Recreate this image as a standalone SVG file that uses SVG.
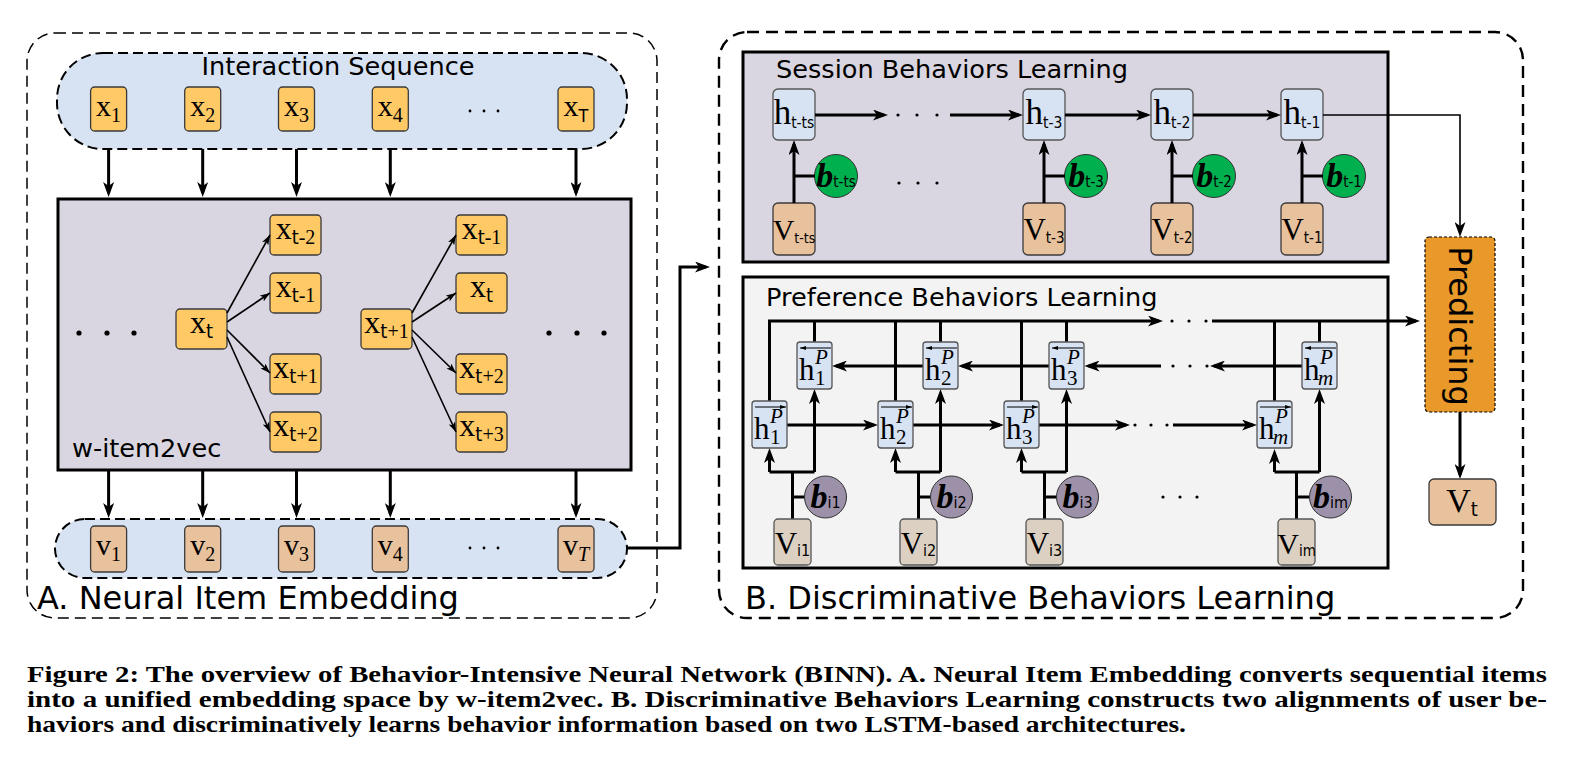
<svg xmlns="http://www.w3.org/2000/svg" width="1585" height="762" viewBox="0 0 1585 762">
<style>
.dA{fill:none;stroke:#000;stroke-width:1.5;stroke-dasharray:11 6}
.dB{fill:none;stroke:#000;stroke-width:2.4;stroke-dasharray:12 7}
.pill{fill:#d7e2f2;stroke:#000;stroke-width:2;stroke-dasharray:10 5}
.panel{fill:#d9d6e1;stroke:#000;stroke-width:3}
.pref{fill:#f3f3f3;stroke:#000;stroke-width:3}
.xb{fill:#ffc966;stroke:#3a3a3a;stroke-width:1.3}
.vb{fill:#e8c19d;stroke:#3a3a3a;stroke-width:1.3}
.hb{fill:#d7e2f2;stroke:#555;stroke-width:1.3}
.vi{fill:#dcd0c2;stroke:#555;stroke-width:1.3}
.bg{fill:#00b04f;stroke:#333;stroke-width:1}
.bp{fill:#9c91a9;stroke:#333;stroke-width:1}
.tk{fill:none;stroke:#000;stroke-width:3}
.tn{fill:none;stroke:#000;stroke-width:1.6}
.th{fill:none;stroke:#000;stroke-width:1}
.lab{font-family:"DejaVu Sans",sans-serif;font-size:25.6px;fill:#000}
.big{font-family:"DejaVu Sans",sans-serif;font-size:32px;fill:#000}
.m{font-family:"Liberation Serif",serif;fill:#000}
.s{font-family:"DejaVu Sans Condensed","DejaVu Sans",sans-serif}
.bi{font-family:"Liberation Serif",serif;font-weight:bold;font-style:italic;fill:#000}
.it{font-family:"Liberation Serif",serif;font-style:italic}
.cap{font-family:"Liberation Serif",serif;font-weight:bold;font-size:24px;fill:#000}
.dot{fill:#000}
</style>
<defs>
<marker id="ak" viewBox="0 0 15 11" refX="11" refY="5.5" markerWidth="15" markerHeight="11" markerUnits="userSpaceOnUse" orient="auto"><path d="M0,0 L15,5.5 L0,11 L4,5.5 z" fill="#000"/></marker>
<marker id="as" viewBox="0 0 10 7" refX="10" refY="3.5" markerWidth="10" markerHeight="7" markerUnits="userSpaceOnUse" orient="auto"><path d="M0,0 L10,3.5 L0,7 L2.5,3.5 z" fill="#000"/></marker>
<marker id="ot" viewBox="0 0 6 4" refX="6" refY="2" markerWidth="6" markerHeight="4" markerUnits="userSpaceOnUse" orient="auto"><path d="M0,0 L6,2 L0,4 z" fill="#000"/></marker>
</defs>

<!-- Panel A -->
<g id="panelA">
<rect class="dA" x="27" y="33" width="630" height="585" rx="28"/>
<text class="big" x="37" y="609" font-size="33">A. Neural Item Embedding</text>
</g>
<g id="interaction-sequence">
<rect class="pill" x="57" y="53" width="570" height="96" rx="46"/>
<text class="lab" x="338" y="75" text-anchor="middle">Interaction Sequence</text>
<circle class="dot" cx="470" cy="111" r="1.4"/><circle class="dot" cx="484" cy="111" r="1.4"/><circle class="dot" cx="498" cy="111" r="1.4"/>
</g>
<g id="x1"><rect class="xb" x="90.6" y="87" width="36" height="44" rx="4"/><text class="m" x="108.6" y="116" text-anchor="middle" font-size="30">x<tspan font-size="20" dy="6">1</tspan></text></g>
<g id="x2"><rect class="xb" x="184.7" y="87" width="36" height="44" rx="4"/><text class="m" x="202.7" y="116" text-anchor="middle" font-size="30">x<tspan font-size="20" dy="6">2</tspan></text></g>
<g id="x3"><rect class="xb" x="278.5" y="87" width="36" height="44" rx="4"/><text class="m" x="296.5" y="116" text-anchor="middle" font-size="30">x<tspan font-size="20" dy="6">3</tspan></text></g>
<g id="x4"><rect class="xb" x="372.3" y="87" width="36" height="44" rx="4"/><text class="m" x="390.3" y="116" text-anchor="middle" font-size="30">x<tspan font-size="20" dy="6">4</tspan></text></g>
<g id="xT"><rect class="xb" x="558" y="87" width="36" height="44" rx="4"/><text class="m" x="576" y="116" text-anchor="middle" font-size="30">x<tspan class="s" font-size="18" dy="6">T</tspan></text></g>

<g id="w-item2vec">
<rect class="panel" x="58" y="199" width="573" height="271"/>
<text class="lab" x="72" y="457">w-item2vec</text>
<circle class="dot" cx="79" cy="333" r="2.6"/><circle class="dot" cx="107" cy="333" r="2.6"/><circle class="dot" cx="134" cy="333" r="2.6"/>
<circle class="dot" cx="549" cy="333" r="2.6"/><circle class="dot" cx="577" cy="333" r="2.6"/><circle class="dot" cx="604" cy="333" r="2.6"/>
</g>
<g id="xt"><rect class="xb" x="176" y="309" width="51" height="40" rx="4"/><text class="m" x="201.5" y="333" text-anchor="middle" font-size="32">x<tspan class="s" font-size="20" dy="5">t</tspan></text></g>
<g id="xt1"><rect class="xb" x="361" y="309" width="51" height="40" rx="4"/><text class="m" x="386.5" y="333" text-anchor="middle" font-size="32">x<tspan class="s" font-size="20" dy="5">t</tspan><tspan font-size="20">+1</tspan></text></g>
<g id="a-xtm2"><rect class="xb" x="270" y="215" width="51" height="40" rx="4"/><text class="m" x="295.5" y="239" text-anchor="middle" font-size="32">x<tspan class="s" font-size="20" dy="5">t</tspan><tspan font-size="20">-2</tspan></text></g>
<g id="a-xtm1"><rect class="xb" x="270" y="273" width="51" height="40" rx="4"/><text class="m" x="295.5" y="297" text-anchor="middle" font-size="32">x<tspan class="s" font-size="20" dy="5">t</tspan><tspan font-size="20">-1</tspan></text></g>
<g id="a-xtp1"><rect class="xb" x="270" y="354" width="51" height="40" rx="4"/><text class="m" x="295.5" y="378" text-anchor="middle" font-size="32">x<tspan class="s" font-size="20" dy="5">t</tspan><tspan font-size="20">+1</tspan></text></g>
<g id="a-xtp2"><rect class="xb" x="270" y="412" width="51" height="40" rx="4"/><text class="m" x="295.5" y="436" text-anchor="middle" font-size="32">x<tspan class="s" font-size="20" dy="5">t</tspan><tspan font-size="20">+2</tspan></text></g>
<g id="b-xtm1"><rect class="xb" x="456" y="215" width="51" height="40" rx="4"/><text class="m" x="481.5" y="239" text-anchor="middle" font-size="32">x<tspan class="s" font-size="20" dy="5">t</tspan><tspan font-size="20">-1</tspan></text></g>
<g id="b-xt"><rect class="xb" x="456" y="273" width="51" height="40" rx="4"/><text class="m" x="481.5" y="297" text-anchor="middle" font-size="32">x<tspan class="s" font-size="20" dy="5">t</tspan></text></g>
<g id="b-xtp2"><rect class="xb" x="456" y="354" width="51" height="40" rx="4"/><text class="m" x="481.5" y="378" text-anchor="middle" font-size="32">x<tspan class="s" font-size="20" dy="5">t</tspan><tspan font-size="20">+2</tspan></text></g>
<g id="b-xtp3"><rect class="xb" x="456" y="412" width="51" height="40" rx="4"/><text class="m" x="481.5" y="436" text-anchor="middle" font-size="32">x<tspan class="s" font-size="20" dy="5">t</tspan><tspan font-size="20">+3</tspan></text></g>

<g id="embedding-sequence">
<rect class="pill" x="55" y="519" width="572" height="59" rx="30"/>
<circle class="dot" cx="470" cy="548" r="1.4"/><circle class="dot" cx="484" cy="548" r="1.4"/><circle class="dot" cx="498" cy="548" r="1.4"/>
</g>
<g id="v1"><rect class="vb" x="90.6" y="526" width="36" height="46" rx="4"/><text class="m" x="108.6" y="555" text-anchor="middle" font-size="30">v<tspan font-size="20" dy="6">1</tspan></text></g>
<g id="v2"><rect class="vb" x="184.7" y="526" width="36" height="46" rx="4"/><text class="m" x="202.7" y="555" text-anchor="middle" font-size="30">v<tspan font-size="20" dy="6">2</tspan></text></g>
<g id="v3"><rect class="vb" x="278.5" y="526" width="36" height="46" rx="4"/><text class="m" x="296.5" y="555" text-anchor="middle" font-size="30">v<tspan font-size="20" dy="6">3</tspan></text></g>
<g id="v4"><rect class="vb" x="372.3" y="526" width="36" height="46" rx="4"/><text class="m" x="390.3" y="555" text-anchor="middle" font-size="30">v<tspan font-size="20" dy="6">4</tspan></text></g>
<g id="vT"><rect class="vb" x="558" y="526" width="36" height="46" rx="4"/><text class="m" x="576" y="555" text-anchor="middle" font-size="30">v<tspan class="it" font-size="20" dy="6">T</tspan></text></g>

<!-- Panel B -->
<g id="panelB">
<rect class="dB" x="719" y="32" width="804" height="586" rx="28"/>
<text class="big" x="745" y="609" font-size="31.6">B. Discriminative Behaviors Learning</text>
</g>
<g id="session">
<rect class="panel" x="743" y="52" width="645" height="210"/>
<text class="lab" x="776" y="78" font-size="26">Session Behaviors Learning</text>
<circle class="dot" cx="898" cy="115" r="1.6"/><circle class="dot" cx="917" cy="115" r="1.6"/><circle class="dot" cx="937" cy="115" r="1.6"/>
<circle class="dot" cx="899" cy="183" r="1.6"/><circle class="dot" cx="918" cy="183" r="1.6"/><circle class="dot" cx="937" cy="183" r="1.6"/>
</g>
<g id="h-tts"><rect class="hb" x="773" y="89" width="42" height="51" rx="5"/><text class="m" x="794" y="124" text-anchor="middle" font-size="35">h<tspan class="s" font-size="15.5" dy="4">t-ts</tspan></text></g>
<g id="h-t3"><rect class="hb" x="1023" y="89" width="42" height="51" rx="5"/><text class="m" x="1044" y="124" text-anchor="middle" font-size="35">h<tspan class="s" font-size="15.5" dy="4">t-3</tspan></text></g>
<g id="h-t2"><rect class="hb" x="1151" y="89" width="42" height="51" rx="5"/><text class="m" x="1172" y="124" text-anchor="middle" font-size="35">h<tspan class="s" font-size="15.5" dy="4">t-2</tspan></text></g>
<g id="h-t1"><rect class="hb" x="1281" y="89" width="42" height="51" rx="5"/><text class="m" x="1302" y="124" text-anchor="middle" font-size="35">h<tspan class="s" font-size="15.5" dy="4">t-1</tspan></text></g>
<g id="b-tts"><circle class="bg" cx="836" cy="176" r="21.5"/><text class="bi" x="836" y="187" text-anchor="middle" font-size="34">b<tspan class="s" font-weight="normal" font-style="normal" font-size="15">t-ts</tspan></text></g>
<g id="b-t3"><circle class="bg" cx="1086" cy="176" r="21.5"/><text class="bi" x="1086" y="187" text-anchor="middle" font-size="34">b<tspan class="s" font-weight="normal" font-style="normal" font-size="15">t-3</tspan></text></g>
<g id="b-t2"><circle class="bg" cx="1214" cy="176" r="21.5"/><text class="bi" x="1214" y="187" text-anchor="middle" font-size="34">b<tspan class="s" font-weight="normal" font-style="normal" font-size="15">t-2</tspan></text></g>
<g id="b-t1"><circle class="bg" cx="1344" cy="176" r="21.5"/><text class="bi" x="1344" y="187" text-anchor="middle" font-size="34">b<tspan class="s" font-weight="normal" font-style="normal" font-size="15">t-1</tspan></text></g>
<g id="V-tts"><rect class="vb" x="773" y="203" width="42" height="52" rx="5"/><text class="m" x="794" y="240" text-anchor="middle" font-size="30">V<tspan class="s" font-size="14" dy="3">t-ts</tspan></text></g>
<g id="V-t3"><rect class="vb" x="1023" y="203" width="42" height="52" rx="5"/><text class="m" x="1044" y="240" text-anchor="middle" font-size="31">V<tspan class="s" font-size="15" dy="3">t-3</tspan></text></g>
<g id="V-t2"><rect class="vb" x="1151" y="203" width="42" height="52" rx="5"/><text class="m" x="1172" y="240" text-anchor="middle" font-size="31">V<tspan class="s" font-size="15" dy="3">t-2</tspan></text></g>
<g id="V-t1"><rect class="vb" x="1281" y="203" width="42" height="52" rx="5"/><text class="m" x="1302" y="240" text-anchor="middle" font-size="31">V<tspan class="s" font-size="15" dy="3">t-1</tspan></text></g>

<g id="preference">
<rect class="pref" x="743" y="277" width="645" height="291"/>
<text class="lab" x="766" y="306">Preference Behaviors Learning</text>
<circle class="dot" cx="1172" cy="321" r="1.6"/><circle class="dot" cx="1189" cy="321" r="1.6"/><circle class="dot" cx="1206" cy="321" r="1.6"/>
<circle class="dot" cx="1173" cy="366" r="1.6"/><circle class="dot" cx="1190" cy="366" r="1.6"/><circle class="dot" cx="1207" cy="366" r="1.6"/>
<circle class="dot" cx="1135" cy="425" r="1.6"/><circle class="dot" cx="1151" cy="425" r="1.6"/><circle class="dot" cx="1167" cy="425" r="1.6"/>
<circle class="dot" cx="1163" cy="497" r="1.6"/><circle class="dot" cx="1180" cy="497" r="1.6"/><circle class="dot" cx="1197" cy="497" r="1.6"/>
</g>

<!-- connectors -->
<g id="connectors">
<g class="tk">
<line x1="108.6" y1="149" x2="108.6" y2="193" marker-end="url(#ak)"/>
<line x1="202.7" y1="149" x2="202.7" y2="193" marker-end="url(#ak)"/>
<line x1="296.5" y1="149" x2="296.5" y2="193" marker-end="url(#ak)"/>
<line x1="390.3" y1="149" x2="390.3" y2="193" marker-end="url(#ak)"/>
<line x1="576" y1="149" x2="576" y2="193" marker-end="url(#ak)"/>
<line x1="108.6" y1="470" x2="108.6" y2="514" marker-end="url(#ak)"/>
<line x1="202.7" y1="470" x2="202.7" y2="514" marker-end="url(#ak)"/>
<line x1="296.5" y1="470" x2="296.5" y2="514" marker-end="url(#ak)"/>
<line x1="390.3" y1="470" x2="390.3" y2="514" marker-end="url(#ak)"/>
<line x1="576" y1="470" x2="576" y2="514" marker-end="url(#ak)"/>
<polyline points="627,548 680,548 680,267 706,267" marker-end="url(#ak)"/>
<line x1="815" y1="115" x2="884" y2="115" marker-end="url(#ak)"/>
<line x1="950" y1="115" x2="1019" y2="115" marker-end="url(#ak)"/>
<line x1="1065" y1="115" x2="1147" y2="115" marker-end="url(#ak)"/>
<line x1="1193" y1="115" x2="1277" y2="115" marker-end="url(#ak)"/>
<line x1="794" y1="203" x2="794" y2="144" marker-end="url(#ak)"/>
<line x1="1044" y1="203" x2="1044" y2="144" marker-end="url(#ak)"/>
<line x1="1172" y1="203" x2="1172" y2="144" marker-end="url(#ak)"/>
<line x1="1302" y1="203" x2="1302" y2="144" marker-end="url(#ak)"/>
<path d="M794,176H815M1044,176H1065M1172,176H1193M1302,176H1323"/>
<line x1="1460" y1="412" x2="1460" y2="475" marker-end="url(#ak)"/>
<polyline points="769.5,401 769.5,321 1159,321" marker-end="url(#ak)"/>
<line x1="1212" y1="321" x2="1416" y2="321" marker-end="url(#ak)"/>
<path d="M814.5,321V342M940.5,321V342M1066.5,321V342M1319.5,321V342M895.5,321V401M1021.5,321V401M1274.5,321V401"/>
<line x1="923" y1="366" x2="836" y2="366" marker-end="url(#ak)"/>
<line x1="1049" y1="366" x2="962" y2="366" marker-end="url(#ak)"/>
<line x1="1161" y1="366" x2="1088.5" y2="366" marker-end="url(#ak)"/>
<line x1="1302" y1="366" x2="1214" y2="366" marker-end="url(#ak)"/>
<line x1="787" y1="425" x2="874" y2="425" marker-end="url(#ak)"/>
<line x1="913" y1="425" x2="1000" y2="425" marker-end="url(#ak)"/>
<line x1="1039" y1="425" x2="1126" y2="425" marker-end="url(#ak)"/>
<line x1="1173" y1="425" x2="1253" y2="425" marker-end="url(#ak)"/>
<path d="M792.5,519V472M769.5,472H814.5M792.5,497H805M918.5,519V472M895.5,472H940.5M918.5,497H931M1044.5,519V472M1021.5,472H1066.5M1044.5,497H1057M1296.5,519V472M1274.5,472H1319.5M1296.5,497H1309"/>
<line x1="769.5" y1="472" x2="769.5" y2="452" marker-end="url(#ak)"/>
<line x1="814.5" y1="472" x2="814.5" y2="393" marker-end="url(#ak)"/>
<line x1="895.5" y1="472" x2="895.5" y2="452" marker-end="url(#ak)"/>
<line x1="940.5" y1="472" x2="940.5" y2="393" marker-end="url(#ak)"/>
<line x1="1021.5" y1="472" x2="1021.5" y2="452" marker-end="url(#ak)"/>
<line x1="1066.5" y1="472" x2="1066.5" y2="393" marker-end="url(#ak)"/>
<line x1="1274.5" y1="472" x2="1274.5" y2="453" marker-end="url(#ak)"/>
<line x1="1319.5" y1="472" x2="1319.5" y2="393" marker-end="url(#ak)"/>
</g>
<polyline class="tn" points="1323,115 1460,115 1460,233" marker-end="url(#ak)"/>
<g class="tn">
<line x1="227" y1="313" x2="270" y2="235" marker-end="url(#as)"/>
<line x1="227" y1="322" x2="270" y2="293" marker-end="url(#as)"/>
<line x1="227" y1="330" x2="270" y2="373" marker-end="url(#as)"/>
<line x1="227" y1="337" x2="270" y2="432" marker-end="url(#as)"/>
<line x1="412" y1="313" x2="456" y2="235" marker-end="url(#as)"/>
<line x1="412" y1="322" x2="456" y2="293" marker-end="url(#as)"/>
<line x1="412" y1="330" x2="456" y2="373" marker-end="url(#as)"/>
<line x1="412" y1="337" x2="456" y2="432" marker-end="url(#as)"/>
</g>
</g>

<!-- preference nodes -->
<g id="hb1"><rect class="hb" x="797" y="342" width="35" height="47" rx="3"/><line class="th" x1="831" y1="348" x2="800" y2="348" marker-end="url(#ot)"/><text class="m" x="799" y="380" font-size="31">h</text><text class="it" x="815" y="364" font-size="21">P</text><text class="m" x="815" y="385" font-size="21">1</text></g>
<g id="hb2"><rect class="hb" x="923" y="342" width="35" height="47" rx="3"/><line class="th" x1="957" y1="348" x2="926" y2="348" marker-end="url(#ot)"/><text class="m" x="925" y="380" font-size="31">h</text><text class="it" x="941" y="364" font-size="21">P</text><text class="m" x="941" y="385" font-size="21">2</text></g>
<g id="hb3"><rect class="hb" x="1049" y="342" width="35" height="47" rx="3"/><line class="th" x1="1083" y1="348" x2="1052" y2="348" marker-end="url(#ot)"/><text class="m" x="1051" y="380" font-size="31">h</text><text class="it" x="1067" y="364" font-size="21">P</text><text class="m" x="1067" y="385" font-size="21">3</text></g>
<g id="hbm"><rect class="hb" x="1302" y="342" width="35" height="47" rx="3"/><line class="th" x1="1336" y1="348" x2="1305" y2="348" marker-end="url(#ot)"/><text class="m" x="1304" y="380" font-size="31">h</text><text class="it" x="1320" y="364" font-size="21">P</text><text class="it" x="1318" y="385" font-size="21">m</text></g>
<g id="hf1"><rect class="hb" x="752" y="401" width="35" height="47" rx="3"/><line class="th" x1="755" y1="407" x2="786" y2="407" marker-end="url(#ot)"/><text class="m" x="754" y="439" font-size="31">h</text><text class="it" x="770" y="423" font-size="21">P</text><text class="m" x="770" y="444" font-size="21">1</text></g>
<g id="hf2"><rect class="hb" x="878" y="401" width="35" height="47" rx="3"/><line class="th" x1="881" y1="407" x2="912" y2="407" marker-end="url(#ot)"/><text class="m" x="880" y="439" font-size="31">h</text><text class="it" x="896" y="423" font-size="21">P</text><text class="m" x="896" y="444" font-size="21">2</text></g>
<g id="hf3"><rect class="hb" x="1004" y="401" width="35" height="47" rx="3"/><line class="th" x1="1007" y1="407" x2="1038" y2="407" marker-end="url(#ot)"/><text class="m" x="1006" y="439" font-size="31">h</text><text class="it" x="1022" y="423" font-size="21">P</text><text class="m" x="1022" y="444" font-size="21">3</text></g>
<g id="hfm"><rect class="hb" x="1257" y="401" width="35" height="47" rx="3"/><line class="th" x1="1260" y1="407" x2="1291" y2="407" marker-end="url(#ot)"/><text class="m" x="1259" y="439" font-size="31">h</text><text class="it" x="1275" y="423" font-size="21">P</text><text class="it" x="1273" y="444" font-size="21">m</text></g>
<g id="b-i1"><circle class="bp" cx="825.5" cy="497" r="21"/><text class="bi" x="825.5" y="508" text-anchor="middle" font-size="34">b<tspan class="s" font-weight="normal" font-style="normal" font-size="16">i1</tspan></text></g>
<g id="b-i2"><circle class="bp" cx="951.5" cy="497" r="21"/><text class="bi" x="951.5" y="508" text-anchor="middle" font-size="34">b<tspan class="s" font-weight="normal" font-style="normal" font-size="16">i2</tspan></text></g>
<g id="b-i3"><circle class="bp" cx="1077.5" cy="497" r="21"/><text class="bi" x="1077.5" y="508" text-anchor="middle" font-size="34">b<tspan class="s" font-weight="normal" font-style="normal" font-size="16">i3</tspan></text></g>
<g id="b-im"><circle class="bp" cx="1330.5" cy="497" r="21"/><text class="bi" x="1330.5" y="508" text-anchor="middle" font-size="34">b<tspan class="s" font-weight="normal" font-style="normal" font-size="16">im</tspan></text></g>
<g id="V-i1"><rect class="vi" x="774" y="519" width="37" height="46" rx="4"/><text class="m" x="792.5" y="554" text-anchor="middle" font-size="31">V<tspan class="s" font-size="16" dy="2">i1</tspan></text></g>
<g id="V-i2"><rect class="vi" x="900" y="519" width="37" height="46" rx="4"/><text class="m" x="918.5" y="554" text-anchor="middle" font-size="31">V<tspan class="s" font-size="16" dy="2">i2</tspan></text></g>
<g id="V-i3"><rect class="vi" x="1026" y="519" width="37" height="46" rx="4"/><text class="m" x="1044.5" y="554" text-anchor="middle" font-size="31">V<tspan class="s" font-size="16" dy="2">i3</tspan></text></g>
<g id="V-im"><rect class="vi" x="1278" y="519" width="37" height="46" rx="4"/><text class="m" x="1296.5" y="554" text-anchor="middle" font-size="30">V<tspan class="s" font-size="15" dy="2">im</tspan></text></g>

<g id="predicting"><rect x="1425" y="237" width="70" height="175" rx="4" fill="#e8992a" stroke="#000" stroke-width="1.2" stroke-dasharray="3 2"/><text class="big" font-size="30" transform="translate(1449,326) rotate(90)" text-anchor="middle">Predicting</text></g>
<g id="Vt"><rect class="vb" x="1429" y="479" width="67" height="46" rx="5"/><text class="m" x="1462" y="512" text-anchor="middle" font-size="34">V<tspan class="s" font-size="20" dy="4">t</tspan></text></g>

<g id="caption">
<text class="cap" x="27" y="682" textLength="1520" lengthAdjust="spacingAndGlyphs">Figure 2: The overview of Behavior-Intensive Neural Network (BINN). A. Neural Item Embedding converts sequential items</text>
<text class="cap" x="27" y="707" textLength="1520" lengthAdjust="spacingAndGlyphs">into a unified embedding space by w-item2vec. B. Discriminative Behaviors Learning constructs two alignments of user be-</text>
<text class="cap" x="27" y="732" textLength="1159" lengthAdjust="spacingAndGlyphs">haviors and discriminatively learns behavior information based on two LSTM-based architectures.</text>
</g>
</svg>
